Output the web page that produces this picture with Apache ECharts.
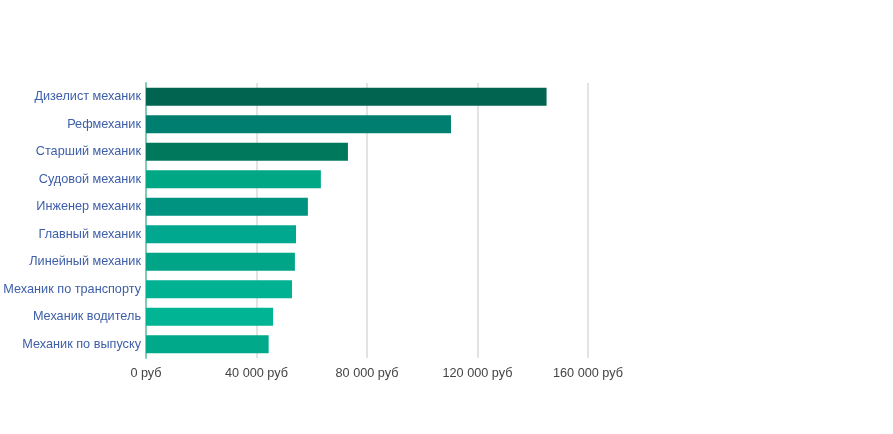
<!DOCTYPE html>
<html><head><meta charset="utf-8">
<script src="https://cdn.jsdelivr.net/npm/echarts@6/dist/echarts.min.js"></script>
<style>html,body{margin:0;padding:0;background:#fff}#c{width:893px;height:434px}</style>
</head><body><div id="c"></div>
<script>
const categories = ["Дизелист механик","Рефмеханик","Старший механик","Судовой механик","Инженер механик","Главный механик","Линейный механик","Механик по транспорту","Механик водитель","Механик по выпуску"];
const salaries = [145000,110400,73100,63300,58600,54300,53900,52850,46000,44400];
const barColors = ["#006450","#007F70","#00785C","#00A784","#00937F","#00A890","#00A587","#00B192","#00B494","#00A98A"];
const xTicks = [0,40000,80000,120000,160000];

const chart = echarts.init(document.getElementById('c'), null, {renderer:'canvas'});
const fmt = v => (v===0 ? '0' : String(v).replace(/\B(?=(\d{3})+(?!\d))/g,' ')) + ' руб';
chart.setOption({
  animation:false,
  grid:{left:146,right:305,top:83,bottom:76,containLabel:false},
  xAxis:{type:'value',min:xTicks[0],max:xTicks[xTicks.length-1],interval:40000,
    axisLine:{show:false},axisTick:{show:false},
    splitLine:{show:true,lineStyle:{color:'#e3e3e3',width:2}},
    axisLabel:{formatter:fmt,color:'#444',fontSize:12.7,fontFamily:'Liberation Sans, Arial',margin:9}},
  yAxis:{type:'category',data:categories,inverse:true,
    axisLine:{show:true,lineStyle:{color:'#80cdb4',width:2}},
    axisTick:{show:false},
    axisLabel:{color:'#3d5ea8',fontSize:12.7,fontFamily:'Liberation Sans, Arial',margin:5}},
  series:[{type:'bar',barWidth:18,
    data:salaries.map((v,i)=>({value:v,itemStyle:{color:barColors[i]}})),
    itemStyle:{borderWidth:0}}]
});
</script></body></html>
